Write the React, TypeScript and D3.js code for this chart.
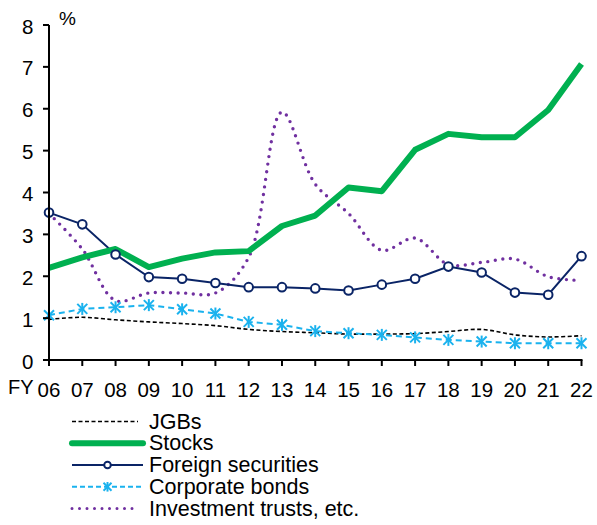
import React from 'react';
import * as d3 from 'd3';

const years = ['06', '07', '08', '09', '10', '11', '12', '13', '14', '15', '16', '17', '18', '19', '20', '21', '22'];
const jgbs = [0.97, 1.02, 0.96, 0.91, 0.87, 0.82, 0.73, 0.68, 0.65, 0.62, 0.62, 0.63, 0.68, 0.73, 0.6, 0.55, 0.58];
const stocks = [2.2, 2.45, 2.65, 2.22, 2.42, 2.57, 2.6, 3.2, 3.45, 4.12, 4.03, 5.02, 5.4, 5.32, 5.32, 5.97, 7.07];
const foreign = [3.52, 3.24, 2.52, 1.98, 1.94, 1.84, 1.74, 1.74, 1.71, 1.66, 1.8, 1.94, 2.23, 2.09, 1.61, 1.56, 2.48];
const corporate = [1.07, 1.22, 1.26, 1.31, 1.21, 1.11, 0.91, 0.84, 0.69, 0.64, 0.6, 0.54, 0.48, 0.44, 0.4, 0.4, 0.4];
const trusts = [3.5, 2.65, 1.42, 1.6, 1.6, 1.6, 2.45, 5.92, 4.2, 3.5, 2.62, 2.91, 2.28, 2.33, 2.41, 1.99, 1.9];
const yTicks = [0, 1, 2, 3, 4, 5, 6, 7, 8];
const legendLabels = ['JGBs', 'Stocks', 'Foreign securities', 'Corporate bonds', 'Investment trusts, etc.'];

const FONT = 'Liberation Sans, Arial, sans-serif';
const NAVY = '#0A2466';
const GREEN = '#00B050';
const CYAN = '#1AB2EE';
const PURPLE = '#7030A0';

function Star({ cx, cy, r }: { cx: number; cy: number; r: number }) {
  return (
    <g stroke={CYAN} strokeWidth={2}>
      <line x1={cx - r} y1={cy - r} x2={cx + r} y2={cy + r} />
      <line x1={cx - r} y1={cy + r} x2={cx + r} y2={cy - r} />
      <line x1={cx} y1={cy - r * 1.2} x2={cx} y2={cy + r * 1.2} />
    </g>
  );
}

export default function App() {
  const left = 49;
  const right = 581.5;
  const top = 25;
  const bottom = 360;

  const x = d3
    .scalePoint<string>()
    .domain(years)
    .range([left, right]);
  const y = d3.scaleLinear().domain([0, 8]).range([bottom, top]);

  const straight = d3
    .line<number>()
    .x((_, i) => x(years[i]) as number)
    .y((d) => y(d));
  const smooth = d3
    .line<number>()
    .x((_, i) => x(years[i]) as number)
    .y((d) => y(d))
    .curve(d3.curveCatmullRom.alpha(0.5));

  // 图例位置
  const legendBase = [428.5, 450.3, 472, 493.8, 515.6];
  const lx1 = 72;
  const lx2 = 143;

  return (
    <svg width={597} height={525} style={{ position: 'absolute', left: 0, top: 0, background: '#fff' }}>
      <rect width={597} height={525} fill="#fff" />
      {/* 线 */}
      <path d={smooth(jgbs) || ''} fill="none" stroke="#000" strokeWidth={1.6} strokeDasharray="4 2.5" />
      <path d={straight(corporate) || ''} fill="none" stroke={CYAN} strokeWidth={2} strokeDasharray="6 4" />
      <path
        d={smooth(trusts) || ''}
        fill="none"
        stroke={PURPLE}
        strokeWidth={3.4}
        strokeDasharray="0 7.6"
        strokeLinecap="round"
      />
      <path d={straight(foreign) || ''} fill="none" stroke={NAVY} strokeWidth={2} />
      <path d={straight(stocks) || ''} fill="none" stroke={GREEN} strokeWidth={6} strokeLinejoin="round" />
      {corporate.map((d, i) => (
        <Star key={'c' + i} cx={x(years[i]) as number} cy={y(d)} r={5} />
      ))}
      {foreign.map((d, i) => (
        <circle key={'f' + i} cx={x(years[i]) as number} cy={y(d)} r={4.3} fill="#fff" stroke={NAVY} strokeWidth={2} />
      ))}

      {/* 坐标轴 */}
      <line x1={left} y1={top} x2={left} y2={bottom} stroke="#000" strokeWidth={2} />
      <line x1={left - 1} y1={bottom} x2={right + 1} y2={bottom} stroke="#000" strokeWidth={2} />
      {yTicks.map((t) => (
        <g key={'y' + t}>
          <line x1={left - 6} y1={y(t)} x2={left} y2={y(t)} stroke="#000" strokeWidth={2} />
          <text x={33.5} y={y(t) + 8.5} textAnchor="end" fontFamily={FONT} fontSize={20.5} fill="#000">
            {t}
          </text>
        </g>
      ))}
      {years.map((yr) => (
        <g key={'x' + yr}>
          <line x1={x(yr) as number} y1={bottom} x2={x(yr) as number} y2={bottom + 6} stroke="#000" strokeWidth={2} />
          <text x={x(yr) as number} y={396.5} textAnchor="middle" fontFamily={FONT} fontSize={20.5} fill="#000">
            {yr}
          </text>
        </g>
      ))}
      <text x={8} y={394} fontFamily={FONT} fontSize={20} fill="#000">
        FY
      </text>
      <text x={59} y={25} fontFamily={FONT} fontSize={19} fill="#000">
        %
      </text>

      {legendLabels.map((label, i) => {
        const ly = legendBase[i] - 7;
        const mid = (lx1 + lx2) / 2;
        return (
          <g key={label}>
            {i === 0 && (
              <line x1={lx1} y1={ly} x2={lx2 - 5} y2={ly} stroke="#000" strokeWidth={1.6} strokeDasharray="4 2.5" />
            )}
            {i === 1 && (
              <line x1={lx1} y1={ly} x2={lx2} y2={ly} stroke={GREEN} strokeWidth={6} strokeLinecap="round" />
            )}
            {i === 2 && (
              <g>
                <line x1={lx1} y1={ly} x2={lx2} y2={ly} stroke={NAVY} strokeWidth={2} />
                <circle cx={mid} cy={ly} r={3.3} fill="#fff" stroke={NAVY} strokeWidth={2} />
              </g>
            )}
            {i === 3 && (
              <g>
                <line x1={lx1} y1={ly} x2={lx2} y2={ly} stroke={CYAN} strokeWidth={2} strokeDasharray="5 3" />
                <Star cx={mid} cy={ly} r={4} />
              </g>
            )}
            {i === 4 && (
              <line
                x1={lx1}
                y1={ly}
                x2={lx2 - 6}
                y2={ly}
                stroke={PURPLE}
                strokeWidth={3}
                strokeDasharray="0 7.5"
                strokeLinecap="round"
              />
            )}
            <text x={149} y={legendBase[i]} fontFamily={FONT} fontSize={21.5} fill="#000">
              {label}
            </text>
          </g>
        );
      })}
    </svg>
  );
}
